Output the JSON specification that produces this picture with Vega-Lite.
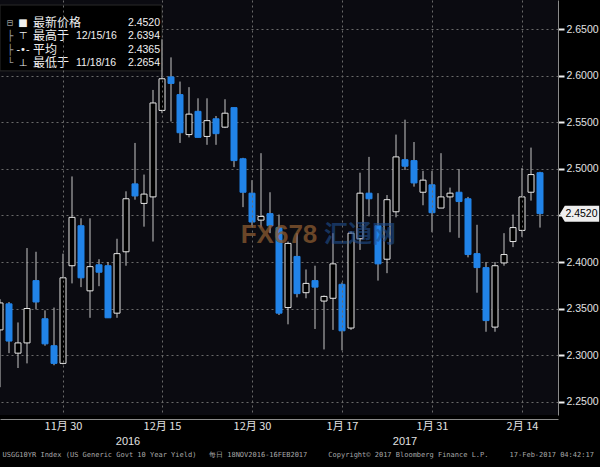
{
  "$schema": "https://vega.github.io/schema/vega-lite/v6.json",
  "width": 558,
  "height": 415,
  "autosize": {"type": "none"},
  "padding": {"left": 0, "top": 0, "right": 42, "bottom": 52},
  "background": "#000000",
  "config": {
    "view": {"fill": "#0b0b11", "stroke": null},
    "font": "Liberation Sans"
  },
  "datasets": {
    "ohlc": [
      {"d": "2016-11-18", "o": 2.327, "h": 2.360, "l": 2.2654, "c": 2.356},
      {"d": "2016-11-21", "o": 2.355, "h": 2.357, "l": 2.302, "c": 2.315},
      {"d": "2016-11-22", "o": 2.302, "h": 2.335, "l": 2.286, "c": 2.313},
      {"d": "2016-11-23", "o": 2.313, "h": 2.415, "l": 2.291, "c": 2.350},
      {"d": "2016-11-25", "o": 2.380, "h": 2.411, "l": 2.349, "c": 2.357},
      {"d": "2016-11-28", "o": 2.339, "h": 2.348, "l": 2.310, "c": 2.312},
      {"d": "2016-11-29", "o": 2.310, "h": 2.351, "l": 2.289, "c": 2.291},
      {"d": "2016-11-30", "o": 2.291, "h": 2.409, "l": 2.290, "c": 2.383},
      {"d": "2016-12-01", "o": 2.396, "h": 2.492, "l": 2.377, "c": 2.448},
      {"d": "2016-12-02", "o": 2.439, "h": 2.447, "l": 2.373, "c": 2.383},
      {"d": "2016-12-05", "o": 2.369, "h": 2.447, "l": 2.340, "c": 2.395},
      {"d": "2016-12-06", "o": 2.397, "h": 2.403, "l": 2.374, "c": 2.389},
      {"d": "2016-12-07", "o": 2.396, "h": 2.400, "l": 2.340, "c": 2.340},
      {"d": "2016-12-08", "o": 2.345, "h": 2.425, "l": 2.340, "c": 2.409},
      {"d": "2016-12-09", "o": 2.411, "h": 2.476, "l": 2.396, "c": 2.468},
      {"d": "2016-12-12", "o": 2.484, "h": 2.528, "l": 2.467, "c": 2.471},
      {"d": "2016-12-13", "o": 2.463, "h": 2.494, "l": 2.438, "c": 2.473},
      {"d": "2016-12-14", "o": 2.470, "h": 2.585, "l": 2.422, "c": 2.571},
      {"d": "2016-12-15", "o": 2.563, "h": 2.6394, "l": 2.560, "c": 2.597},
      {"d": "2016-12-16", "o": 2.599, "h": 2.620, "l": 2.551, "c": 2.592},
      {"d": "2016-12-19", "o": 2.580, "h": 2.594, "l": 2.528, "c": 2.539},
      {"d": "2016-12-20", "o": 2.537, "h": 2.588, "l": 2.534, "c": 2.559},
      {"d": "2016-12-21", "o": 2.562, "h": 2.576, "l": 2.534, "c": 2.534},
      {"d": "2016-12-22", "o": 2.535, "h": 2.576, "l": 2.526, "c": 2.552},
      {"d": "2016-12-23", "o": 2.554, "h": 2.557, "l": 2.526, "c": 2.538},
      {"d": "2016-12-27", "o": 2.545, "h": 2.575, "l": 2.544, "c": 2.560},
      {"d": "2016-12-28", "o": 2.566, "h": 2.566, "l": 2.502, "c": 2.509},
      {"d": "2016-12-29", "o": 2.511, "h": 2.512, "l": 2.459, "c": 2.475},
      {"d": "2016-12-30", "o": 2.474, "h": 2.488, "l": 2.438, "c": 2.443},
      {"d": "2017-01-03", "o": 2.445, "h": 2.517, "l": 2.437, "c": 2.449},
      {"d": "2017-01-04", "o": 2.452, "h": 2.475, "l": 2.431, "c": 2.439},
      {"d": "2017-01-05", "o": 2.437, "h": 2.451, "l": 2.343, "c": 2.345},
      {"d": "2017-01-06", "o": 2.351, "h": 2.422, "l": 2.333, "c": 2.420},
      {"d": "2017-01-09", "o": 2.406, "h": 2.431, "l": 2.362, "c": 2.366},
      {"d": "2017-01-10", "o": 2.367, "h": 2.392, "l": 2.361, "c": 2.377},
      {"d": "2017-01-11", "o": 2.380, "h": 2.396, "l": 2.328, "c": 2.373},
      {"d": "2017-01-12", "o": 2.358, "h": 2.364, "l": 2.306, "c": 2.363},
      {"d": "2017-01-13", "o": 2.361, "h": 2.431, "l": 2.327, "c": 2.398},
      {"d": "2017-01-17", "o": 2.376, "h": 2.378, "l": 2.305, "c": 2.326},
      {"d": "2017-01-18", "o": 2.329, "h": 2.433, "l": 2.327, "c": 2.431},
      {"d": "2017-01-19", "o": 2.425, "h": 2.496, "l": 2.413, "c": 2.474},
      {"d": "2017-01-20", "o": 2.474, "h": 2.513, "l": 2.449, "c": 2.468},
      {"d": "2017-01-23", "o": 2.439, "h": 2.474, "l": 2.380, "c": 2.398},
      {"d": "2017-01-24", "o": 2.403, "h": 2.472, "l": 2.388, "c": 2.467},
      {"d": "2017-01-25", "o": 2.454, "h": 2.537, "l": 2.448, "c": 2.513},
      {"d": "2017-01-26", "o": 2.510, "h": 2.553, "l": 2.499, "c": 2.503},
      {"d": "2017-01-27", "o": 2.509, "h": 2.529, "l": 2.481, "c": 2.485},
      {"d": "2017-01-30", "o": 2.475, "h": 2.498, "l": 2.461, "c": 2.488},
      {"d": "2017-01-31", "o": 2.483, "h": 2.498, "l": 2.432, "c": 2.453},
      {"d": "2017-02-01", "o": 2.458, "h": 2.517, "l": 2.458, "c": 2.470},
      {"d": "2017-02-02", "o": 2.470, "h": 2.480, "l": 2.432, "c": 2.474},
      {"d": "2017-02-03", "o": 2.475, "h": 2.500, "l": 2.426, "c": 2.465},
      {"d": "2017-02-06", "o": 2.468, "h": 2.470, "l": 2.405, "c": 2.408},
      {"d": "2017-02-07", "o": 2.409, "h": 2.440, "l": 2.367, "c": 2.394},
      {"d": "2017-02-08", "o": 2.394, "h": 2.400, "l": 2.325, "c": 2.337},
      {"d": "2017-02-09", "o": 2.330, "h": 2.400, "l": 2.325, "c": 2.396},
      {"d": "2017-02-10", "o": 2.399, "h": 2.431, "l": 2.396, "c": 2.408},
      {"d": "2017-02-13", "o": 2.422, "h": 2.451, "l": 2.416, "c": 2.437},
      {"d": "2017-02-14", "o": 2.434, "h": 2.501, "l": 2.427, "c": 2.470},
      {"d": "2017-02-15", "o": 2.475, "h": 2.523, "l": 2.466, "c": 2.494},
      {"d": "2017-02-16", "o": 2.496, "h": 2.497, "l": 2.437, "c": 2.452}
    ]
  },
  "data": {"name": "ohlc"},
  "encoding": {
    "x": {
      "field": "d",
      "type": "ordinal",
      "scale": {
        "type": "point",
        "padding": 0,
        "domain": ["2016-11-18","2016-11-21","2016-11-22","2016-11-23","2016-11-25","2016-11-28","2016-11-29","2016-11-30","2016-12-01","2016-12-02","2016-12-05","2016-12-06","2016-12-07","2016-12-08","2016-12-09","2016-12-12","2016-12-13","2016-12-14","2016-12-15","2016-12-16","2016-12-19","2016-12-20","2016-12-21","2016-12-22","2016-12-23","2016-12-27","2016-12-28","2016-12-29","2016-12-30","2017-01-03","2017-01-04","2017-01-05","2017-01-06","2017-01-09","2017-01-10","2017-01-11","2017-01-12","2017-01-13","2017-01-17","2017-01-18","2017-01-19","2017-01-20","2017-01-23","2017-01-24","2017-01-25","2017-01-26","2017-01-27","2017-01-30","2017-01-31","2017-02-01","2017-02-02","2017-02-03","2017-02-06","2017-02-07","2017-02-08","2017-02-09","2017-02-10","2017-02-13","2017-02-14","2017-02-15","2017-02-16","2017-02-17","2017-02-21"]
      },
      "axis": {
        "values": ["2016-11-30","2016-12-15","2016-12-30","2017-01-17","2017-01-31","2017-02-14"],
        "labelExpr": "toNumber(slice(datum.value,5,7)) + '月 ' + slice(datum.value,8,10)",
        "labelAngle": 0,
        "labelFont": "Noto Sans CJK SC",
        "labelFontSize": 11,
        "labelColor": "#e2e2e2",
        "labelPadding": 1,
        "grid": true,
        "gridColor": "#6a6a6a",
        "gridDash": [2, 3],
        "ticks": false,
        "domain": true,
        "domainColor": "#8a8a8a",
        "offset": 4,
        "title": "USGG10YR Index (US Generic Govt 10 Year Yield)\u00a0\u00a0\u00a0每日 18NOV2016-16FEB2017\u00a0\u00a0\u00a0\u00a0\u00a0Copyright© 2017 Bloomberg Finance L.P.\u00a0\u00a0\u00a0\u00a0\u00a017-Feb-2017 04:42:17",
        "titleFont": "DejaVu Sans Mono",
        "titleFontSize": 7,
        "titleFontWeight": "normal",
        "titleColor": "#a8a8a8",
        "titleAlign": "left",
        "titleBaseline": "middle",
        "titleX": 2,
        "titleY": 35
      }
    }
  },
  "layer": [
    {
      "data": {"values": [{}]},
      "mark": {"type": "rect", "fill": "#000000", "stroke": "#2a2a2a", "strokeWidth": 1},
      "encoding": {
        "x": {"datum": "2016-11-18", "type": "ordinal"},
        "x2": {"datum": "2016-12-15"},
        "y": {"datum": 2.6763, "type": "quantitative", "title": null},
        "y2": {"datum": 2.6055}
      }
    },
    {
      "mark": {"type": "rule", "color": "#c8c8c8", "strokeWidth": 1, "clip": true},
      "encoding": {
        "y": {
          "field": "l",
          "type": "quantitative",
          "title": null,
          "scale": {"domain": [2.2355, 2.6817], "nice": false, "zero": false},
          "axis": {
            "orient": "right",
            "title": null,
            "values": [2.25, 2.275, 2.3, 2.325, 2.35, 2.375, 2.4, 2.425, 2.45, 2.475, 2.5, 2.525, 2.55, 2.575, 2.6, 2.625, 2.65, 2.675],
            "labelExpr": "(round(datum.value*1000) % 50 == 0 && round(datum.value*1000) != 2450) ? format(datum.value, '.4f') : ''",
            "labelOverlap": false,
            "labelBound": false,
            "labelFlush": false,
            "labelFont": "Liberation Sans",
            "labelFontSize": 10.5,
            "labelColor": "#e2e2e2",
            "labelPadding": 2,
            "grid": true,
            "gridColor": "#6a6a6a",
            "gridDash": [2, 3],
            "gridOpacity": {"condition": {"test": "round(datum.value*1000) % 50 != 0", "value": 0}, "value": 1},
            "tickSize": {"condition": {"test": "round(datum.value*1000) % 50 != 0", "value": 3}, "value": 6},
            "tickWidth": {"condition": {"test": "round(datum.value*1000) % 50 != 0", "value": 1}, "value": 2},
            "tickColor": {"condition": {"test": "round(datum.value*1000) % 50 != 0", "value": "#8a8a8a"}, "value": "#f0f0f0"},
            "domain": true,
            "domainColor": "#8a8a8a"
          }
        },
        "y2": {"field": "h"}
      }
    },
    {
      "mark": {"type": "bar", "size": 6, "strokeWidth": 1, "clip": true},
      "encoding": {
        "y": {"field": "o", "type": "quantitative", "title": null},
        "y2": {"field": "c"},
        "fill": {"condition": {"test": "datum.c < datum.o", "value": "#2183e8"}, "value": "#000000"},
        "stroke": {"condition": {"test": "datum.c < datum.o", "value": "#2183e8"}, "value": "#e6e6e6"}
      }
    },
    {
      "transform": [{"filter": "datum.d == '2017-02-16'"}],
      "mark": {"type": "point", "shape": "M -1.25 0 L -0.95 -0.5 L 1.2 -0.5 L 1.2 0.5 L -0.95 0.5 Z", "size": 1024, "filled": true, "fill": "#eeeeee", "opacity": 1, "strokeWidth": 0, "xOffset": 40, "clip": false},
      "encoding": {"y": {"field": "c", "type": "quantitative", "title": null}}
    },
    {
      "transform": [{"filter": "datum.d == '2017-02-16'"}],
      "mark": {"type": "text", "xOffset": 41.5, "color": "#000000", "font": "Liberation Sans", "fontSize": 10.5, "align": "center", "baseline": "middle", "clip": false},
      "encoding": {
        "y": {"field": "c", "type": "quantitative", "title": null},
        "text": {"field": "c", "type": "quantitative", "format": ".4f"}
      }
    },
    {
      "data": {"values": [{}]},
      "mark": {"type": "text", "text": "FX678", "font": "Liberation Sans", "fontSize": 26, "fontWeight": "bold", "color": "#8a5a30", "opacity": 0.75, "align": "center", "baseline": "middle"},
      "encoding": {
        "x": {"datum": "2017-01-05", "type": "ordinal"},
        "y": {"datum": 2.429, "type": "quantitative", "title": null}
      }
    },
    {
      "data": {"values": [{}]},
      "mark": {"type": "text", "text": "汇通网", "font": "Noto Sans CJK SC", "fontSize": 24, "fontWeight": "bold", "color": "#1f4f8f", "opacity": 0.6, "align": "center", "baseline": "middle"},
      "encoding": {
        "x": {"datum": "2017-01-19", "type": "ordinal"},
        "y": {"datum": 2.429, "type": "quantitative", "title": null}
      }
    },
    {
      "data": {"values": [{}]},
      "mark": {"type": "text", "text": "2016", "font": "Liberation Sans", "fontSize": 11, "color": "#e2e2e2", "align": "center", "baseline": "middle", "dx": 2, "clip": false},
      "encoding": {
        "x": {"datum": "2016-12-09", "type": "ordinal"},
        "y": {"datum": 2.2065, "type": "quantitative", "title": null}
      }
    },
    {
      "data": {"values": [{}]},
      "mark": {"type": "text", "text": "2017", "font": "Liberation Sans", "fontSize": 11, "color": "#e2e2e2", "align": "center", "baseline": "middle", "clip": false},
      "encoding": {
        "x": {"datum": "2017-01-26", "type": "ordinal"},
        "y": {"datum": 2.2065, "type": "quantitative", "title": null}
      }
    },
    {
      "data": {"values": [{}]},
      "mark": {"type": "text", "text": ["⊟", "├", "├", "└"], "font": "DejaVu Sans Mono", "fontSize": 10, "lineHeight": 13.4, "color": "#9a9a9a", "align": "center", "baseline": "middle", "dx": 1},
      "encoding": {
        "x": {"datum": "2016-11-21", "type": "ordinal"},
        "y": {"datum": 2.657, "type": "quantitative", "title": null}
      }
    },
    {
      "data": {"values": [{}]},
      "mark": {"type": "text", "text": ["■", "⊤", "-•-", "⊥"], "font": "DejaVu Sans", "fontSize": 10, "lineHeight": 13.4, "color": "#f0f0f0", "align": "center", "baseline": "middle", "dx": 5},
      "encoding": {
        "x": {"datum": "2016-11-22", "type": "ordinal"},
        "y": {"datum": 2.657, "type": "quantitative", "title": null}
      }
    },
    {
      "data": {"values": [{}]},
      "mark": {"type": "text", "text": ["最新价格", "最高于", "平均", "最低于"], "font": "Noto Sans CJK SC", "fontSize": 12, "lineHeight": 13.4, "color": "#f0f0f0", "align": "left", "baseline": "middle", "dx": 6},
      "encoding": {
        "x": {"datum": "2016-11-23", "type": "ordinal"},
        "y": {"datum": 2.657, "type": "quantitative", "title": null}
      }
    },
    {
      "data": {"values": [{}]},
      "mark": {"type": "text", "text": "12/15/16", "font": "Liberation Sans", "fontSize": 10.5, "color": "#f0f0f0", "align": "left", "baseline": "middle", "dx": 13},
      "encoding": {
        "x": {"datum": "2016-11-30", "type": "ordinal"},
        "y": {"datum": 2.6426, "type": "quantitative", "title": null}
      }
    },
    {
      "data": {"values": [{}]},
      "mark": {"type": "text", "text": "11/18/16", "font": "Liberation Sans", "fontSize": 10.5, "color": "#f0f0f0", "align": "left", "baseline": "middle", "dx": 13},
      "encoding": {
        "x": {"datum": "2016-11-30", "type": "ordinal"},
        "y": {"datum": 2.6138, "type": "quantitative", "title": null}
      }
    },
    {
      "data": {"values": [{}]},
      "mark": {"type": "text", "text": ["2.4520", "2.6394", "2.4365", "2.2654"], "font": "Liberation Sans", "fontSize": 10.5, "lineHeight": 13.4, "color": "#f0f0f0", "align": "right", "baseline": "middle", "dx": -2},
      "encoding": {
        "x": {"datum": "2016-12-15", "type": "ordinal"},
        "y": {"datum": 2.657, "type": "quantitative", "title": null}
      }
    }
  ]
}
